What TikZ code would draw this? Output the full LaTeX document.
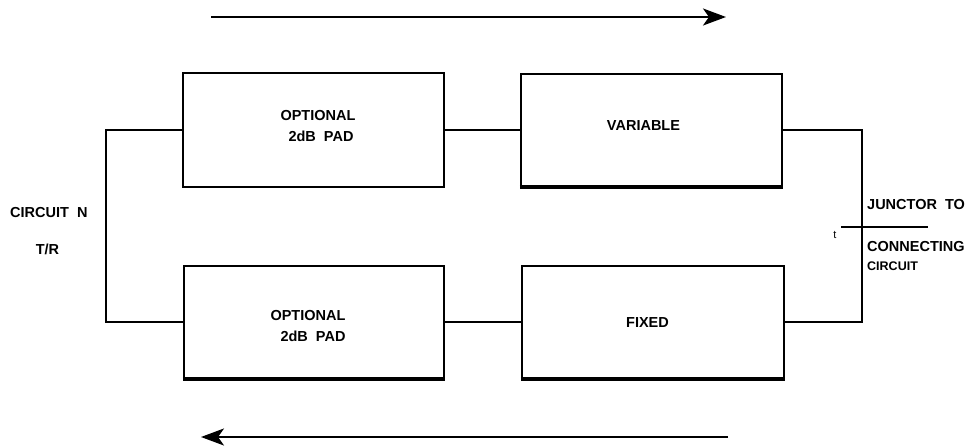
\documentclass[tikz,border=0pt]{standalone}
\usepackage{fontspec}
\setmainfont{Liberation Sans}
\usetikzlibrary{arrows.meta}
\tikzset{
  blk/.style={draw, line width=2.4pt, rectangle, inner sep=0pt},
  lbl/.style={inner sep=0pt, font=\fontsize{14.5}{17}\selectfont\bfseries},
  smalllbl/.style={inner sep=0pt, font=\fontsize{12.5}{15}\selectfont\bfseries},
  wire/.style={line width=2.2pt},
  flow/.style={line width=2.2pt, -{Stealth[length=23pt,width=17pt,inset=6pt]}},
}
\begin{document}
\begin{tikzpicture}[x=1pt,y=-1pt]
\useasboundingbox (0,0) rectangle (980,447);
% boxes
\node[blk, minimum width=261pt, minimum height=114pt] (tl) at (313.5,130) {};
\node[blk, minimum width=261pt, minimum height=112pt] (var) at (651.5,130) {};
\node[blk, minimum width=260pt, minimum height=112pt] (bl) at (314,322) {};
\node[blk, minimum width=262pt, minimum height=112pt] (fix) at (653,322) {};
% thicker bottom edges
\draw[line width=4pt] (var.south west) -- (var.south east);
\draw[line width=4pt] (bl.south west) -- (bl.south east);
\draw[line width=4pt] (fix.south west) -- (fix.south east);
% texts in boxes
\node[lbl] (t1) at (318,116) {OPTIONAL};
\node[lbl] (t2) at (321,136) {2dB\ \ PAD};
\node[lbl] (t3) at (643.5,126) {VARIABLE};
\node[lbl] (t4) at (308,316) {OPTIONAL};
\node[lbl] (t5) at (313,336) {2dB\ \ PAD};
\node[lbl] (t6) at (647.5,323) {FIXED};
% wiring
\draw[wire] (tl.east) -- (var.west);
\draw[wire] (bl.east) -- (fix.west);
\coordinate (lv) at (106,130);
\coordinate (rv) at (862,130);
\draw[wire] (tl.west) -- (lv) |- (bl.west);
\draw[wire] (var.east) -- (rv) |- (fix.east);
\coordinate (s1) at (841,227);
\coordinate (s2) at (928,227);
\draw[wire] (s1) -- (s2);
% side labels
\node[lbl, anchor=west] (cn) at (10,213) {CIRCUIT\ \ N};
\node[lbl] (tr) at (47.5,249) {T/R};
\node[lbl, anchor=west] (jt) at (867,205) {JUNCTOR\ \ TO};
\node[lbl, anchor=west] (cc) at (867,247) {CONNECTING};
\node[smalllbl, anchor=west] (ci) at (867,266) {CIRCUIT};
\node[inner sep=0pt, font=\fontsize{11}{13}\selectfont] (tt) at (835,235) {t};
% flow arrows
\coordinate (a1) at (211,17);
\coordinate (a2) at (726,17);
\coordinate (a3) at (728,437);
\coordinate (a4) at (201,437);
\draw[flow] (a1) -- (a2);
\draw[flow] (a3) -- (a4);
\end{tikzpicture}
\end{document}
